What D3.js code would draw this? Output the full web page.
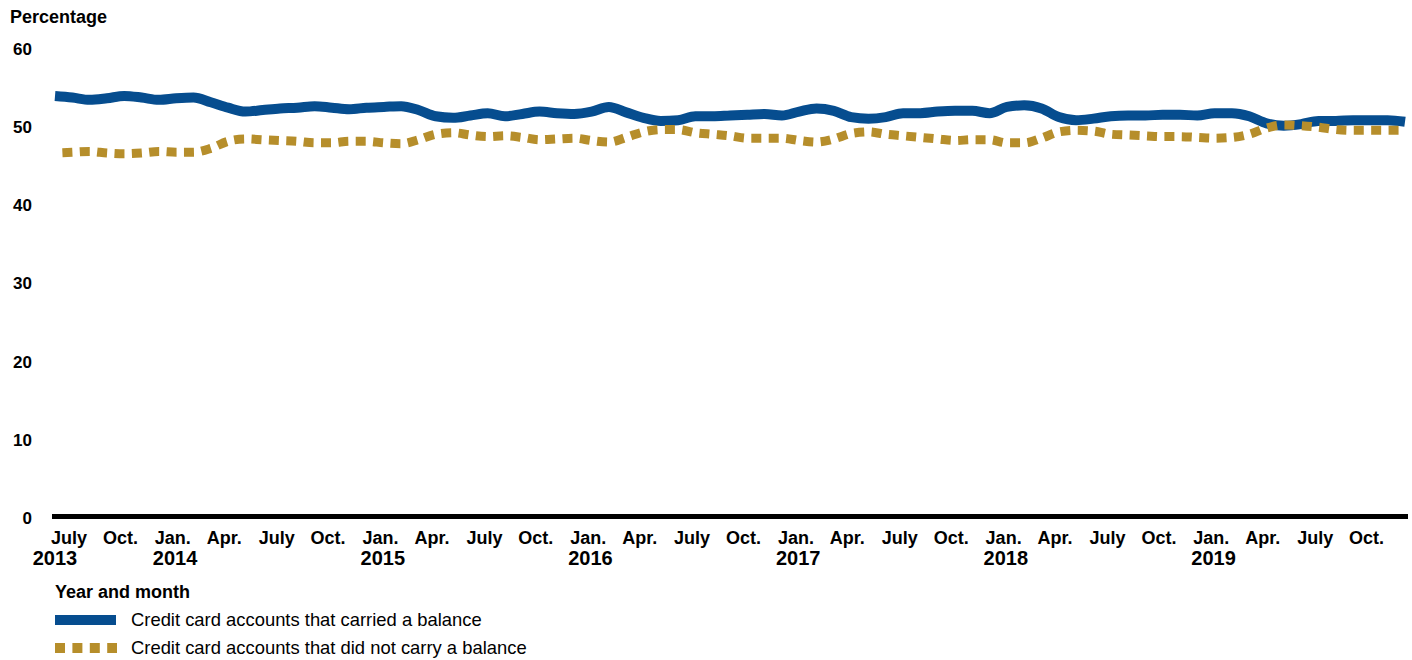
<!DOCTYPE html>
<html>
<head>
<meta charset="utf-8">
<script src="https://cdn.jsdelivr.net/npm/d3@7"></script>
<style>
  html, body { margin: 0; padding: 0; background: #fff; }
  svg { display: block; font-family: "Liberation Sans", Arial, sans-serif; }
</style>
</head>
<body>
<svg id="chart" width="1412" height="660"></svg>
<script>
// Months: July 2013 .. January 2020
const months = [
  "2013-07","2013-08","2013-09","2013-10","2013-11","2013-12",
  "2014-01","2014-02","2014-03","2014-04","2014-05","2014-06","2014-07","2014-08","2014-09","2014-10","2014-11","2014-12",
  "2015-01","2015-02","2015-03","2015-04","2015-05","2015-06","2015-07","2015-08","2015-09","2015-10","2015-11","2015-12",
  "2016-01","2016-02","2016-03","2016-04","2016-05","2016-06","2016-07","2016-08","2016-09","2016-10","2016-11","2016-12",
  "2017-01","2017-02","2017-03","2017-04","2017-05","2017-06","2017-07","2017-08","2017-09","2017-10","2017-11","2017-12",
  "2018-01","2018-02","2018-03","2018-04","2018-05","2018-06","2018-07","2018-08","2018-09","2018-10","2018-11","2018-12",
  "2019-01","2019-02","2019-03","2019-04","2019-05","2019-06","2019-07","2019-08","2019-09","2019-10","2019-11","2019-12",
  "2020-01"
];

const carriedBalance = [
  53.8,53.6,53.3,53.5,53.8,53.6,
  53.3,53.5,53.6,53.0,52.3,51.8,52.0,52.2,52.3,52.5,52.3,52.1,
  52.3,52.4,52.5,52.0,51.2,51.0,51.3,51.6,51.2,51.5,51.8,51.6,
  51.5,51.8,52.4,51.7,51.0,50.6,50.7,51.2,51.2,51.3,51.4,51.5,
  51.3,51.8,52.2,51.9,51.1,50.9,51.1,51.6,51.6,51.8,51.9,51.9,
  51.6,52.4,52.6,52.2,51.1,50.7,50.9,51.2,51.3,51.3,51.4,51.4,
  51.3,51.6,51.6,51.2,50.3,50.0,50.2,50.6,50.6,50.7,50.7,50.7,
  50.5
];

const noBalance = [
  46.5,46.6,46.7,46.5,46.4,46.5,
  46.7,46.6,46.6,47.1,48.0,48.3,48.2,48.1,48.0,47.8,47.8,48.0,
  48.0,47.8,47.7,48.2,48.9,49.1,48.8,48.6,48.7,48.5,48.2,48.3,
  48.4,48.1,47.9,48.5,49.2,49.5,49.5,49.1,48.9,48.7,48.4,48.4,
  48.4,48.1,47.9,48.3,49.0,49.2,48.9,48.7,48.5,48.3,48.1,48.2,
  48.2,47.8,47.8,48.4,49.2,49.4,49.3,48.9,48.8,48.7,48.6,48.6,
  48.5,48.4,48.5,48.9,49.7,50.1,50.0,49.8,49.5,49.4,49.4,49.4,
  49.4
];

const tickKeys = [
  "2013-07","2013-10","2014-01","2014-04","2014-07","2014-10","2015-01","2015-04","2015-07","2015-10",
  "2016-01","2016-04","2016-07","2016-10","2017-01","2017-04","2017-07","2017-10","2018-01","2018-04",
  "2018-07","2018-10","2019-01","2019-04","2019-07","2019-10"
];
const tickLabels = [
  "July","Oct.","Jan.","Apr.","July","Oct.","Jan.","Apr.","July","Oct.",
  "Jan.","Apr.","July","Oct.","Jan.","Apr.","July","Oct.","Jan.","Apr.",
  "July","Oct.","Jan.","Apr.","July","Oct."
];
const yearKeys = ["2013-07","2014-01","2015-01","2016-01","2017-01","2018-01","2019-01"];
const yearLabels = ["2013","2014","2015","2016","2017","2018","2019"];
const yTicks = [0,10,20,30,40,50,60];

const seriesNames = [
  "Credit card accounts that carried a balance",
  "Credit card accounts that did not carry a balance"
];

const BLUE = "#064d8f";
const GOLD = "#b68e2b";

const svg = d3.select("#chart");

const x = d3.scalePoint().domain(months).range([55, 1405]);
const y = d3.scaleLinear().domain([0, 60]).range([516.5, 47.5]);

// Y axis tick labels (no axis line)
const yAxis = d3.axisLeft(y).tickValues(yTicks).tickSize(0).tickPadding(0);
const yg = svg.append("g").attr("transform", "translate(32,1.5)").call(yAxis);
yg.select(".domain").remove();
yg.selectAll("text")
  .attr("font-family", "Liberation Sans, Arial, sans-serif")
  .attr("font-size", 17).attr("font-weight", "bold").attr("fill", "#000");

// Y axis title
svg.append("text").attr("x", 10).attr("y", 23)
  .attr("font-size", 18).attr("font-weight", "bold").attr("fill", "#000")
  .text("Percentage");

// Baseline (x axis line)
svg.append("line")
  .attr("x1", 52).attr("x2", 1408)
  .attr("y1", y(0)).attr("y2", y(0))
  .attr("stroke", "#000").attr("stroke-width", 5);

// Month tick labels
svg.append("g").selectAll("text").data(tickKeys).join("text")
  .attr("x", d => x(d) - 4)
  .attr("y", 544)
  .attr("font-size", 18).attr("font-weight", "bold").attr("fill", "#000")
  .text((d, i) => tickLabels[i]);

// Year labels
svg.append("g").selectAll("text").data(yearKeys).join("text")
  .attr("x", (d, i) => i === 0 ? x(d) : x(d) - 6)
  .attr("text-anchor", (d, i) => i === 0 ? "middle" : "start")
  .attr("y", 565)
  .attr("font-size", 20).attr("font-weight", "bold").attr("fill", "#000")
  .text((d, i) => yearLabels[i]);

// Lines
const line = d3.line()
  .x(d => x(d[0]))
  .y(d => y(d[1]))
  .curve(d3.curveMonotoneX);

svg.append("path")
  .datum(months.map((m, i) => [m, carriedBalance[i]]))
  .attr("d", line)
  .attr("fill", "none").attr("stroke", BLUE).attr("stroke-width", 10)
  .attr("stroke-linejoin", "round");

svg.append("path")
  .datum(months.map((m, i) => [m, noBalance[i]]))
  .attr("d", line)
  .attr("fill", "none").attr("stroke", GOLD).attr("stroke-width", 9)
  .attr("stroke-dasharray", "10,7.4").attr("stroke-dashoffset", 10);

// Legend
svg.append("text").attr("x", 55).attr("y", 598)
  .attr("font-size", 18).attr("font-weight", "bold").attr("fill", "#000")
  .text("Year and month");

svg.append("line").attr("x1", 55).attr("x2", 116).attr("y1", 620).attr("y2", 620)
  .attr("stroke", BLUE).attr("stroke-width", 10);
svg.append("text").attr("x", 131).attr("y", 626)
  .attr("font-size", 18.4).attr("fill", "#000").text(seriesNames[0]);

svg.append("line").attr("x1", 55).attr("x2", 117).attr("y1", 648).attr("y2", 648)
  .attr("stroke", GOLD).attr("stroke-width", 10).attr("stroke-dasharray", "10,7.4");
svg.append("text").attr("x", 131).attr("y", 654)
  .attr("font-size", 18.4).attr("fill", "#000").text(seriesNames[1]);
</script>
</body>
</html>
